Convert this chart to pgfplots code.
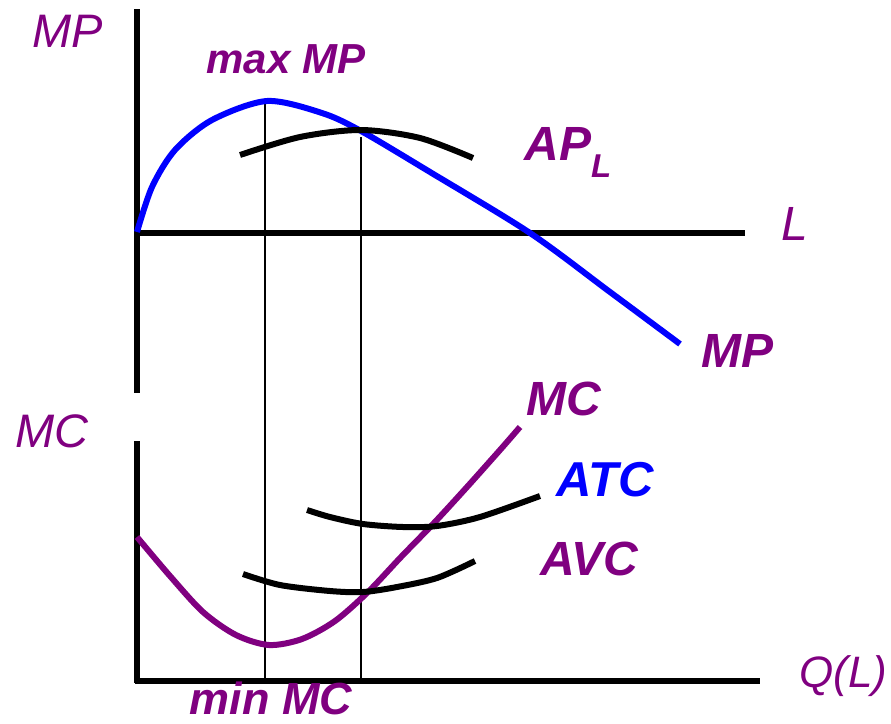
\documentclass[border=0pt]{standalone}
\usepackage{fontspec}
\setmainfont{Liberation Sans}
\usepackage{pgfplots}
\pgfplotsset{compat=1.18}
\definecolor{pur}{HTML}{800080}
\definecolor{blu}{HTML}{0000FF}
\begin{document}
\begin{tikzpicture}
\begin{axis}[
  width=891pt, height=723pt, scale only axis,
  xmin=0, xmax=891, ymin=0, ymax=723, y dir=reverse,
  axis line style={draw=none}, xtick=\empty, ytick=\empty, clip=false,
  every node/.style={inner sep=0pt, outer sep=0pt},
]
% axes
\addplot[black, line width=5.5pt] coordinates {(137,9) (137,393)};
\addplot[black, line width=5.5pt] coordinates {(137,233) (745,233)};
\addplot[black, line width=5.5pt] coordinates {(137,441) (137,683)};
\addplot[black, line width=5.5pt] coordinates {(135,681) (760,681)};
% guide lines
\addplot[black, line width=2.2pt] coordinates {(265,104) (265,681)};
\addplot[black, line width=2.2pt] coordinates {(361,137) (361,681)};
% MP
\addplot[blu, line width=6pt, smooth] coordinates {
(137,232) (152,187) (175,150) (212,120) (267,101) (322,113) (361,131) (430,172) (530,233) (610,292) (680,344)};
% AP
\addplot[black, line width=6pt, smooth] coordinates {
(240,155) (300,137) (361,130) (420,138) (473,158)};
% MC
\addplot[pur, line width=6pt, smooth] coordinates {
(137,537) (170,576) (203,612) (236,635) (269,645) (302,639) (335,621) (368,592) (401,557) (434,523) (467,487) (500,450) (520,427)};
% ATC
\addplot[black, line width=6pt, smooth] coordinates {
(307,510) (330,517) (363,524) (403,527) (437,526) (480,517) (540,496)};
% AVC
\addplot[black, line width=6pt, smooth] coordinates {
(243,574) (280,585) (330,591) (363,592) (397,587) (437,578) (475,561)};
% labels
\node[anchor=base west, text=pur] at (axis cs:29,47) {\fontsize{47}{50}\selectfont\itshape MP};
\node[anchor=base west, text=pur] at (axis cs:203,73) {\fontsize{42}{46}\selectfont\bfseries\itshape max MP};
\node[anchor=base west, text=pur] at (axis cs:521,160) {\fontsize{48}{50}\selectfont\bfseries\itshape AP\raisebox{-17pt}{\fontsize{33}{35}\selectfont L}};
\node[anchor=base west, text=pur] at (axis cs:778,240) {\fontsize{48}{50}\selectfont\itshape L};
\node[anchor=base west, text=pur] at (axis cs:698,367) {\fontsize{48}{50}\selectfont\bfseries\itshape MP};
\node[anchor=base west, text=pur] at (axis cs:523,415) {\fontsize{48}{50}\selectfont\bfseries\itshape MC};
\node[anchor=base west, text=pur] at (axis cs:12,447) {\fontsize{47}{50}\selectfont\itshape MC};
\node[anchor=base west, text=blu] at (axis cs:553,496) {\fontsize{49}{50}\selectfont\bfseries\itshape ATC};
\node[anchor=base west, text=pur] at (axis cs:537,575) {\fontsize{48}{50}\selectfont\bfseries\itshape AVC};
\node[anchor=base west, text=pur] at (axis cs:796,687) {\fontsize{44}{50}\selectfont\itshape Q(L)};
\node[anchor=base west, text=pur] at (axis cs:186,714) {\fontsize{45}{50}\selectfont\bfseries\itshape min MC};
\end{axis}
\end{tikzpicture}
\end{document}
